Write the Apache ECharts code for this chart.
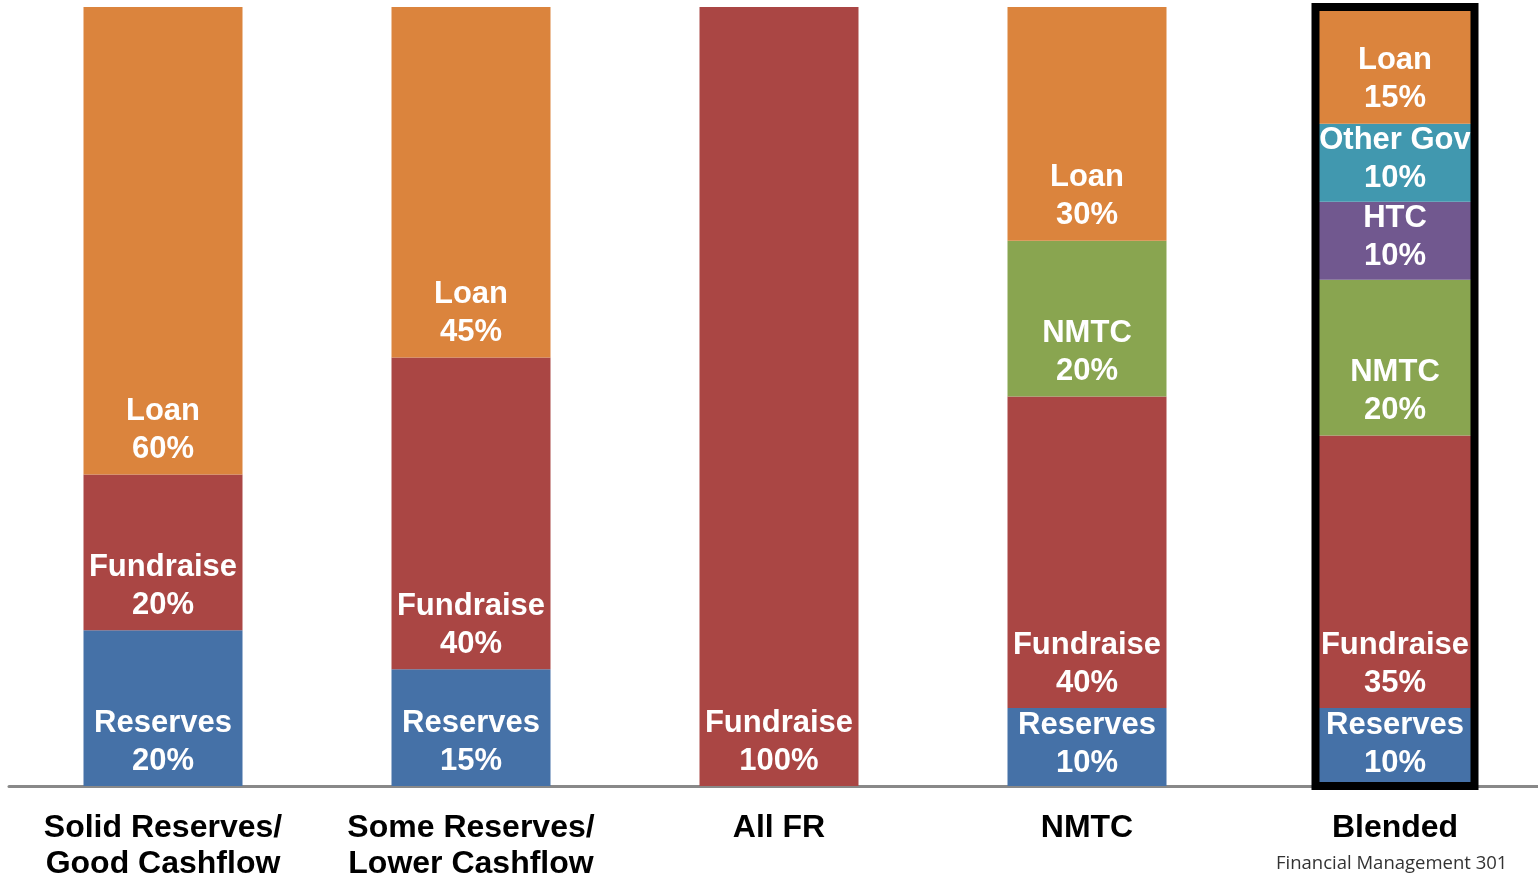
<!DOCTYPE html>
<html>
<head>
<meta charset="utf-8">
<script src="https://cdn.jsdelivr.net/npm/echarts@6/dist/echarts.min.js"></script>
<style>
html,body{margin:0;padding:0;background:#fff;}
#chart{width:1538px;height:876px;}
</style>
</head>
<body>
<div id="chart"></div>
<script>
const categories = ['Solid Reserves/\nGood Cashflow', 'Some Reserves/\nLower Cashflow', 'All FR', 'NMTC', 'Blended'];
const reserves  = [20, 15, null, 10, 10];
const fundraise = [20, 40, 100, 40, 35];
const nmtc      = [null, null, null, 20, 20];
const htc       = [null, null, null, null, 10];
const otherGov  = [null, null, null, null, 10];
const loan      = [60, 45, null, 30, 15];
const highlighted = 'Blended';
const footnote = 'Financial Management 301';

const seriesDefs = [
  {name: 'Reserves', data: reserves, color: '#4571A7'},
  {name: 'Fundraise', data: fundraise, color: '#AA4644'},
  {name: 'NMTC', data: nmtc, color: '#89A550'},
  {name: 'HTC', data: htc, color: '#71588F'},
  {name: 'Other Gov', data: otherGov, color: '#4198AF'},
  {name: 'Loan', data: loan, color: '#DB843D'}
];

const BAR_W = 159;
const font = '"Liberation Sans", Arial, sans-serif';

const series = seriesDefs.map(s => ({
  name: s.name,
  type: 'bar',
  stack: 'total',
  barWidth: BAR_W,
  itemStyle: {color: s.color},
  data: s.data.map(v => v == null ? null : {
    value: v,
    label: v <= 10 ? {position: 'inside', offset: [0, -3]} : {position: 'insideBottom', distance: 6}
  }),
  label: {
    show: true,
    color: '#fff',
    fontFamily: font,
    fontWeight: 'bold',
    fontSize: 31,
    lineHeight: 38,
    formatter: p => p.seriesName + '\n' + p.value + '%'
  }
}));

const hiIdx = categories.indexOf(highlighted);
const totals = categories.map((c, i) => seriesDefs.reduce((a, s) => a + (s.data[i] || 0), 0));
series.push({
  name: 'frame',
  type: 'custom',
  silent: true,
  z: 5,
  data: categories.map((c, i) => [i, totals[i]]).filter(d => d[0] === hiIdx),
  renderItem: function (params, api) {
    const idx = api.value(0);
    const p0 = api.coord([idx, 0]);
    const p1 = api.coord([idx, api.value(1)]);
    return {
      type: 'rect',
      shape: {x: p0[0] - BAR_W / 2, y: p1[1], width: BAR_W, height: p0[1] - p1[1]},
      style: {fill: 'none', stroke: '#000', lineWidth: 8}
    };
  }
});

const chart = echarts.init(document.getElementById('chart'));
chart.setOption({
  animation: false,
  grid: {left: 9, width: 1540, top: 7, bottom: 90, containLabel: false, outerBoundsMode: 'none'},
  xAxis: {
    type: 'category',
    data: categories,
    axisLine: {lineStyle: {color: '#898989', width: 3}},
    axisTick: {show: false},
    axisLabel: {
      color: '#000',
      fontFamily: font,
      fontWeight: 'bold',
      fontSize: 32,
      lineHeight: 36,
      margin: 24,
      interval: 0
    }
  },
  yAxis: {type: 'value', min: 0, max: 100, show: false, splitLine: {show: false}},
  series: series,
  graphic: [{
    type: 'text',
    left: 1276,
    top: 854,
    style: {text: footnote, fontFamily: '"Open Sans", "Noto Sans", sans-serif', fontSize: 18.5, fill: '#333'}
  }]
});
</script>
</body>
</html>
